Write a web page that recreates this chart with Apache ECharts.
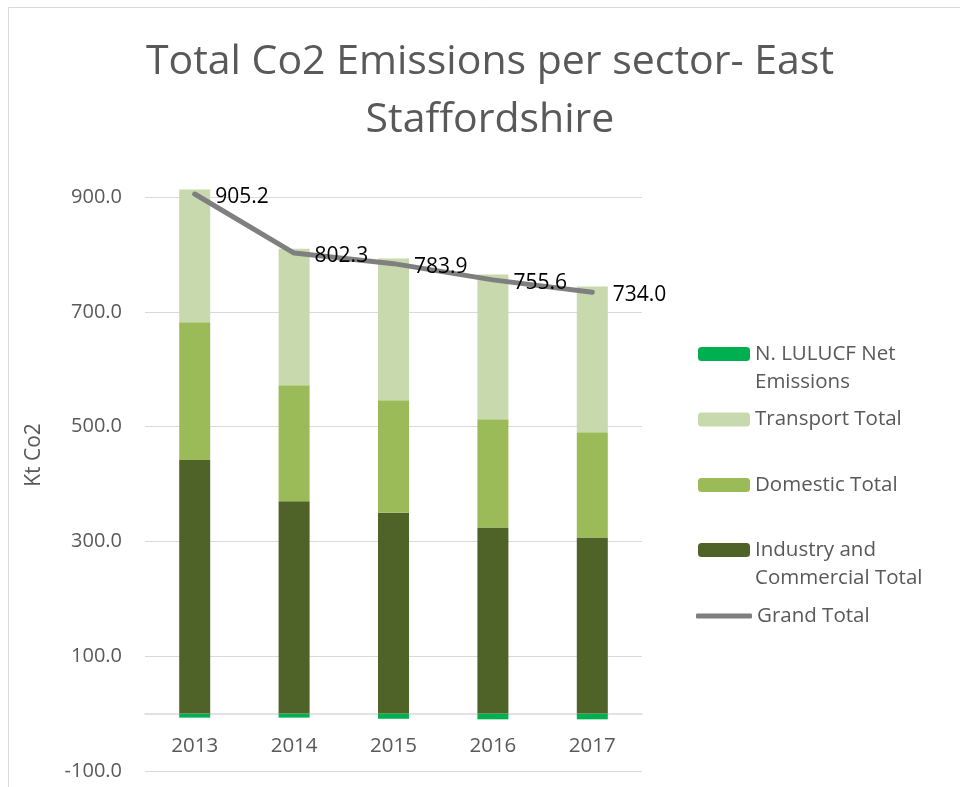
<!DOCTYPE html>
<html>
<head>
<meta charset="utf-8">
<script src="https://cdn.jsdelivr.net/npm/echarts@6/dist/echarts.min.js"></script>
<style>html,body{margin:0;padding:0;background:#fff}#c{width:960px;height:787px}</style>
</head>
<body>
<div id="c"></div>
<script>
var years = ['2013', '2014', '2015', '2016', '2017'];
var lulucf = [-7, -7, -9, -10, -10];
var transport = [231, 238, 247, 252, 254];
var domestic = [240, 202, 196, 189, 183];
var industry = [442, 370, 350, 324, 307];
var grandTotal = [905.2, 802.3, 783.9, 755.6, 734.0];
var yTicks = [-100, 100, 300, 500, 700, 900];

var FONT = 'Open Sans';
var GREY = '#595959';
var names = {
  lulucf: 'N. LULUCF Net Emissions',
  transport: 'Transport Total',
  domestic: 'Domestic Total',
  industry: 'Industry and Commercial Total',
  total: 'Grand Total'
};
var wrapped = {};
wrapped[names.lulucf] = '\nN. LULUCF Net\nEmissions';
wrapped[names.industry] = '\nIndustry and\nCommercial Total';

var GRID_TOP = 197, GRID_BOTTOM_Y = 771;
var zeroOffset = (GRID_BOTTOM_Y - GRID_TOP) * (0 - yTicks[0]) / (yTicks[yTicks.length - 1] - yTicks[0]);

function legendFor(name, top, isLine) {
  return {
    data: [isLine ? { name: name, icon: 'roundRect' } : name],
    left: isLine ? 696 : 698,
    top: top,
    padding: 0,
    itemWidth: isLine ? 56 : 52,
    itemHeight: isLine ? 5 : 14,
    formatter: function (n) { return wrapped[n] || n; },
    textStyle: { fontFamily: FONT, fontSize: 20.5, color: GREY, lineHeight: 28 }
  };
}

var chart = echarts.init(document.getElementById('c'));
chart.setOption({
  animation: false,
  backgroundColor: '#fff',
  title: {
    text: 'Total Co2 Emissions per sector- East\nStaffordshire',
    left: 490,
    textAlign: 'center',
    top: 33,
    padding: 0,
    textStyle: { fontFamily: FONT, fontSize: 41, fontWeight: 'normal', color: GREY, lineHeight: 58 }
  },
  graphic: [{
    type: 'rect', silent: true,
    shape: { x: 8.5, y: 7.5, width: 1000, height: 1000 },
    style: { fill: 'none', stroke: '#D9D9D9', lineWidth: 1 }
  }],
  legend: [
    legendFor(names.lulucf, 312, false),
    legendFor(names.transport, 405.5, false),
    legendFor(names.domestic, 471, false),
    legendFor(names.industry, 508, false),
    legendFor(names.total, 602, true)
  ],
  grid: { left: 145, right: 318, top: GRID_TOP, bottom: 787 - GRID_BOTTOM_Y, containLabel: false, outerBoundsMode: 'none' },
  xAxis: {
    type: 'category',
    data: years,
    position: 'bottom',
    offset: -zeroOffset,
    axisLine: { onZero: false, lineStyle: { color: '#D9D9D9', width: 1.5 } },
    axisTick: { show: false },
    axisLabel: { fontFamily: FONT, fontSize: 20.5, color: GREY, margin: 22 }
  },
  yAxis: {
    type: 'value',
    min: yTicks[0],
    max: yTicks[yTicks.length - 1],
    interval: 200,
    name: 'Kt Co2',
    nameLocation: 'middle',
    nameGap: 100,
    nameTextStyle: { fontFamily: FONT, fontSize: 21, color: GREY, padding: [0, 0, 0, 58] },
    axisLine: { show: false },
    axisTick: { show: false },
    splitLine: { lineStyle: { color: '#D9D9D9', width: 1 } },
    axisLabel: {
      fontFamily: FONT, fontSize: 20, color: GREY, margin: 23,
      formatter: function (v) { return v.toFixed(1); }
    }
  },
  series: [
    { name: names.lulucf, type: 'bar', stack: 's', data: lulucf, barWidth: 31, clip: false,
      itemStyle: { color: '#00B050' } },
    { name: names.industry, type: 'bar', stack: 's', data: industry, barWidth: 31, clip: false,
      itemStyle: { color: '#4F6228' } },
    { name: names.domestic, type: 'bar', stack: 's', data: domestic, barWidth: 31, clip: false,
      itemStyle: { color: '#9BBB59' } },
    { name: names.transport, type: 'bar', stack: 's', data: transport, barWidth: 31, clip: false,
      itemStyle: { color: '#C8D9AD' } },
    { name: names.total, type: 'line', data: grandTotal, symbol: 'circle', symbolSize: 1, showSymbol: true,
      clip: false, z: 5,
      lineStyle: { color: '#7F7F7F', width: 5, cap: 'round', join: 'round' },
      itemStyle: { color: '#7F7F7F' },
      label: {
        show: true, position: 'right', distance: 20, offset: [0, 3],
        fontFamily: FONT, fontSize: 21, color: '#000',
        formatter: function (p) { return p.value.toFixed(1); }
      }
    }
  ]
});
</script>
</body>
</html>
